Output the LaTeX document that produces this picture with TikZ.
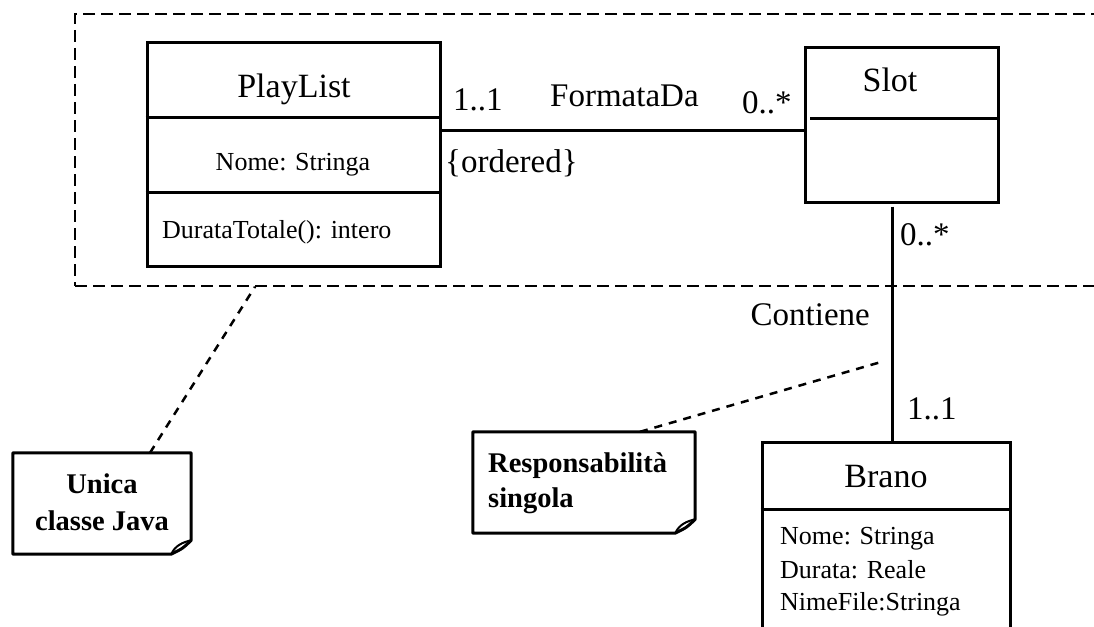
\documentclass[tikz,border=0pt]{standalone}
\usepackage{fontspec}
\setmainfont{Liberation Serif}
\usetikzlibrary{calc}
\tikzset{
  classbox/.style={draw, line width=3pt, rectangle, inner sep=0pt},
  pkgbox/.style={draw, line width=1.5pt, dash pattern=on 12pt off 6pt, rectangle, inner sep=0pt},
  noteholder/.style={rectangle, inner sep=0pt},
  noteline/.style={line width=3pt, line join=round},
  assoc/.style={line width=3pt},
  anchorline/.style={line width=2.5pt, dash pattern=on 8pt off 7pt},
  divider/.style={line width=3pt},
  ttl/.style={font=\fontsize{34}{40}\selectfont, anchor=base, inner sep=0pt},
  attr/.style={font=\fontsize{26}{30}\selectfont, anchor=base west, inner sep=0pt},
  attrc/.style={font=\fontsize{26}{30}\selectfont, anchor=base, inner sep=0pt},
  lbl/.style={font=\fontsize{33}{38}\selectfont, anchor=base west, inner sep=0pt},
  notetxt/.style={font=\bfseries\fontsize{28.5}{32}\selectfont, inner sep=0pt}
}
\begin{document}
\begin{tikzpicture}[x=1pt,y=-1pt]
\useasboundingbox (0,0) rectangle (1094,626);
\fill[white] (0,0) rectangle (1094,626);

% package (dashed)
\node[pkgbox, minimum width=1035pt, minimum height=272pt] (pkg) at (592.5,150) {};

% PlayList class
\node[classbox, fill=white, minimum width=293pt, minimum height=223pt] (playlist) at (293.5,154.5) {};
\draw[divider] (playlist.west |- 0,117) -- (playlist.east |- 0,117);
\draw[divider] (playlist.west |- 0,192) -- (playlist.east |- 0,192);
\node[ttl] (plt) at (294,97) {PlayList};
\node[attrc] (pla) at (293,170) {Nome: Stringa};
\node[attr] (plm) at (162,238) {DurataTotale(): intero};

% Slot class
\node[classbox, fill=white, minimum width=193pt, minimum height=154pt] (slot) at (901.5,125) {};
\draw[divider] (810,118) -- (slot.east |- 0,118);
\node[ttl] (slt) at (890,91) {Slot};

% Brano class
\node[classbox, fill=white, minimum width=248pt, minimum height=210pt] (brano) at (886,547) {};
\draw[divider] (brano.west |- 0,509) -- (brano.east |- 0,509);
\node[ttl] (brt) at (886,487) {Brano};
\node[attr] (br1) at (780,544) {Nome: Stringa};
\node[attr] (br2) at (780,578) {Durata: Reale};
\node[attr] (br3) at (780,610) {NimeFile:Stringa};

% association FormataDa
\coordinate (fa) at (0,130);
\draw[assoc] (playlist.east |- fa) -- (slot.west |- fa);
\node[lbl] (m11a) at (453,110) {1..1};
\node[lbl] (fname) at (550,106) {FormataDa};
\node[lbl] (m0a) at (742,113) {0..*};
\node[lbl] (ord) at (445,172) {\{ordered\}};

% association Contiene
\coordinate (cv) at (892,0);
\draw[assoc] ($(slot.south -| cv)+(0,3)$) -- (brano.north -| cv);
\node[lbl] (m0b) at (900,245) {0..*};
\node[lbl, anchor=base east] (cname) at (870,325) {Contiene};
\node[lbl] (m11b) at (907,419) {1..1};

% note 1
\node[noteholder, minimum width=178pt, minimum height=101pt] (note1) at (102,503.5) {};
\draw[noteline, fill=white] (note1.north west) -- (note1.north east) -- ($(note1.south east)+(0pt,14pt)$)
  .. controls ($(note1.south east)+(-8pt,6pt)$) .. ($(note1.south east)+(-20pt,0pt)$)
  -- (note1.south west) -- cycle;
\draw[line width=2pt] ($(note1.south east)+(-20pt,0pt)$) .. controls ($(note1.south east)+(-16pt,9pt)$) and ($(note1.south east)+(-8pt,12pt)$) .. ($(note1.south east)+(0pt,14pt)$);
\node[notetxt] (n1t1) at (102,493) [anchor=base] {Unica};
\node[notetxt] (n1t2) at (102,530) [anchor=base] {classe Java};
\coordinate (n1a) at (150,0);
\coordinate (n1b) at (255,0);
\draw[anchorline] (note1.north -| n1a) -- (pkg.south -| n1b);

% note 2
\node[noteholder, minimum width=222pt, minimum height=101pt] (note2) at (584,482.5) {};
\draw[noteline, fill=white] (note2.north west) -- (note2.north east) -- ($(note2.south east)+(0pt,14pt)$)
  .. controls ($(note2.south east)+(-8pt,6pt)$) .. ($(note2.south east)+(-20pt,0pt)$)
  -- (note2.south west) -- cycle;
\draw[line width=2pt] ($(note2.south east)+(-20pt,0pt)$) .. controls ($(note2.south east)+(-16pt,9pt)$) and ($(note2.south east)+(-8pt,12pt)$) .. ($(note2.south east)+(0pt,14pt)$);
\node[notetxt, anchor=base west] (n2t1) at (488,472) {Responsabilità};
\node[notetxt, anchor=base west] (n2t2) at (488,507) {singola};
\coordinate (n2a) at (640,0);
\coordinate (n2b) at (881,362);
\draw[anchorline] (note2.north -| n2a) -- (n2b);
\end{tikzpicture}
\end{document}
